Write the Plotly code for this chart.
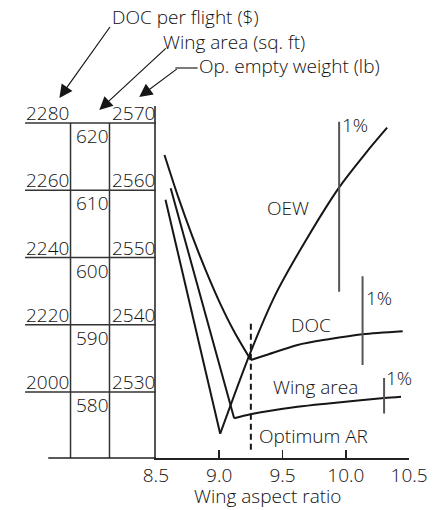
import plotly.graph_objects as go

# ---------------- data ----------------
aspect_ticks = [8.5, 9.0, 9.5, 10.0, 10.5]
aspect_ticklabels = ["8.5", "9.0", "9.5", "10.0", "10.5"]

# table scales (one row line per value)
doc_ticks = [2280, 2260, 2240, 2220, 2200]
doc_ticklabels = ["2280", "2260", "2240", "2220", "2000"]
wing_ticks = [620, 610, 600, 590, 580]
wing_ticklabels = ["620", "610", "600", "590", "580"]
oew_ticks = [2570, 2560, 2550, 2540, 2530]
oew_ticklabels = ["2570", "2560", "2550", "2540", "2530"]

# DOC per flight ($) vs wing aspect ratio
doc_ar = [8.568, 8.678, 8.788, 8.898, 9.008, 9.118, 9.25, 9.372, 9.619, 9.863, 10.131, 10.449]
doc_val = [2270.5, 2257.8, 2246.3, 2235.8, 2226.3, 2218.0, 2209.5, 2211.0, 2214.0, 2215.7, 2217.2, 2218.1]

# Wing area (sq. ft)
wing_ar = [8.617, 9.118, 9.247, 9.619, 9.863, 10.302, 10.436]
wing_val = [610.3, 576.1, 576.7, 577.8, 578.3, 579.1, 579.3]

# Operating empty weight (lb)
oew_ar = [8.576, 9.008, 9.247, 9.447, 9.692, 9.946, 10.156, 10.326]
oew_val = [2558.6, 2523.8, 2535.9, 2544.6, 2552.8, 2560.4, 2565.5, 2569.3]

# "1%" scale bars: x position, bottom, top (in each curve's own units)
oew_pct_bar = (9.947, 2544.9, 2570.2)
doc_pct_bar = (10.132, 2208.0, 2234.4)
wing_pct_bar = (10.302, 576.8, 582.1)

optimum_ar = 9.25
optimum_line_doc = (2182.8, 2221.0)

# ---------------- layout constants (pixels) ----------------
W, H = 443, 510
PLOT_L, PLOT_R = 154, 427
PLOT_T, PLOT_B = 106, 458
ROW_T, ROW_B = 123, 392
TABLE_L, COL1, COL2 = 13, 62, 104
AXIS_EXT_L = 38

FONT = dict(family="Open Sans, Liberation Sans, Arial", size=19, color="#111111", weight=300)


def px_x(p):
    return p / W


def px_y(p):
    return (H - p) / H


def axis_range(ticks):
    per_px = (ticks[0] - ticks[-1]) / (ROW_B - ROW_T)
    return [ticks[-1] - (PLOT_B - ROW_B) * per_px, ticks[0] + (ROW_T - PLOT_T) * per_px]


def branches(xs, ys):
    i = ys.index(min(ys))
    return (xs[:i + 1], ys[:i + 1]), (xs[i:], ys[i:])


doc_range = axis_range(doc_ticks)
wing_range = axis_range(wing_ticks)
oew_range = axis_range(oew_ticks)

fig = go.Figure()

for xs, ys, ax in ((doc_ar, doc_val, "y"), (wing_ar, wing_val, "y2"), (oew_ar, oew_val, "y3")):
    (lx, ly), (rx, ry) = branches(xs, ys)
    for bx, by in ((lx, ly), (rx, ry)):
        fig.add_trace(go.Scatter(x=bx, y=by, yaxis=ax, mode="lines",
                                 line=dict(color="#161616", width=2,
                                           shape="spline" if len(bx) > 2 else "linear",
                                           smoothing=0.8),
                                 hoverinfo="skip", showlegend=False))

bar = dict(mode="lines", line=dict(color="#555555", width=2), hoverinfo="skip", showlegend=False)
fig.add_trace(go.Scatter(x=[oew_pct_bar[0]] * 2, y=list(oew_pct_bar[1:]), yaxis="y3", **bar))
fig.add_trace(go.Scatter(x=[doc_pct_bar[0]] * 2, y=list(doc_pct_bar[1:]), yaxis="y", **bar))
fig.add_trace(go.Scatter(x=[wing_pct_bar[0]] * 2, y=list(wing_pct_bar[1:]), yaxis="y2", **bar))

fig.add_trace(go.Scatter(x=[optimum_ar] * 2, y=list(optimum_line_doc), yaxis="y", mode="lines",
                         line=dict(color="#161616", width=2, dash="6px,4px"),
                         hoverinfo="skip", showlegend=False))

shapes = []
# table rows
for v in doc_ticks:
    shapes.append(dict(type="line", xref="paper", yref="y", x0=px_x(TABLE_L), x1=px_x(PLOT_L),
                       y0=v, y1=v, line=dict(color="#333333", width=1.5)))
# table column separators
for c in (COL1, COL2):
    shapes.append(dict(type="line", xref="paper", yref="paper", x0=px_x(c), x1=px_x(c),
                       y0=px_y(PLOT_B), y1=px_y(ROW_T), line=dict(color="#333333", width=1.5)))
# axis extension under the table
shapes.append(dict(type="line", xref="paper", yref="paper", x0=px_x(AXIS_EXT_L), x1=px_x(PLOT_L),
                   y0=px_y(PLOT_B), y1=px_y(PLOT_B), line=dict(color="#222222", width=1.5)))
# horizontal lead of the OEW pointer
shapes.append(dict(type="line", xref="paper", yref="paper", x0=px_x(175), x1=px_x(199),
                   y0=px_y(68), y1=px_y(68), line=dict(color="#222222", width=1.2)))

ann = []
for v, t in zip(doc_ticks, doc_ticklabels):
    ann.append(dict(xref="paper", yref="y", x=px_x(TABLE_L - 1), y=v, text=t, showarrow=False,
                    xanchor="left", yanchor="middle", yshift=10, font=FONT))
for v, t in zip(doc_ticks, wing_ticklabels):
    ann.append(dict(xref="paper", yref="y", x=px_x(COL1 + 4), y=v, text=t, showarrow=False,
                    xanchor="left", yanchor="middle", yshift=-13, font=FONT))
for v, t in zip(doc_ticks, oew_ticklabels):
    ann.append(dict(xref="paper", yref="y", x=px_x(COL2 + 1), y=v, text=t, showarrow=False,
                    xanchor="left", yanchor="middle", yshift=10, font=FONT))

# curve labels
ann.append(dict(xref="x", yref="y3", x=9.544, y=2557.4, text="OEW", showarrow=False, font=FONT))
ann.append(dict(xref="x", yref="y", x=9.723, y=2219.9, text="DOC", showarrow=False, font=FONT))
ann.append(dict(xref="x", yref="y2", x=9.760, y=580.74, text="Wing area", showarrow=False, font=FONT))
ann.append(dict(xref="x", yref="y", x=optimum_ar, y=2186.9, text="Optimum AR", showarrow=False,
                xanchor="left", xshift=6, font=FONT))
ann.append(dict(xref="x", yref="y3", x=oew_pct_bar[0], y=2569.7, text="1%", showarrow=False,
                xanchor="left", xshift=1, font=FONT))
ann.append(dict(xref="x", yref="y", x=doc_pct_bar[0], y=2228.0, text="1%", showarrow=False,
                xanchor="left", xshift=1, font=FONT))
ann.append(dict(xref="x", yref="y2", x=wing_pct_bar[0], y=582.1, text="1%", showarrow=False,
                xanchor="left", xshift=0, font=FONT))

# scale pointers
ann.append(dict(xref="paper", yref="paper", x=px_x(105), y=px_y(17.5), text="DOC per flight ($)",
                showarrow=False, xanchor="left", yanchor="middle", font=FONT))
ann.append(dict(xref="paper", yref="paper", x=px_x(160), y=px_y(42), text="Wing area (sq. ft)",
                showarrow=False, xanchor="left", yanchor="middle", font=FONT))
ann.append(dict(xref="paper", yref="paper", x=px_x(198), y=px_y(66), text="Op. empty weight (lb)",
                showarrow=False, xanchor="left", yanchor="middle", font=FONT))
arrow = dict(xref="paper", yref="paper", text=" ", showarrow=True, arrowhead=2, arrowsize=2.2,
             arrowwidth=1.2, arrowcolor="#161616", axref="pixel", ayref="pixel", standoff=0,
             font=dict(size=1))
ann.append(dict(x=px_x(50), y=px_y(98), ax=52, ay=-73, **arrow))
ann.append(dict(x=px_x(93), y=px_y(110), ax=68, ay=-63, **arrow))
ann.append(dict(x=px_x(136), y=px_y(97), ax=39, ay=-29, **arrow))

# axis title
ann.append(dict(xref="paper", yref="paper", x=px_x(275), y=px_y(496), text="Wing aspect ratio",
                showarrow=False, xanchor="center", yanchor="middle", font=FONT))

ydom = [px_y(PLOT_B), px_y(PLOT_T)]
fig.update_layout(
    width=W, height=H,
    margin=dict(l=0, r=0, t=0, b=0),
    paper_bgcolor="white", plot_bgcolor="white",
    showlegend=False,
    font=FONT,
    xaxis=dict(domain=[px_x(PLOT_L), px_x(PLOT_R)], range=[8.5, 10.5],
               tickvals=aspect_ticks, ticktext=aspect_ticklabels,
               ticks="inside", ticklen=8, tickwidth=1.5, tickcolor="#222222",
               ticklabeloverflow="allow",
               showline=True, linecolor="#222222", linewidth=1.5,
               showgrid=False, zeroline=False, tickfont=FONT, fixedrange=True),
    yaxis=dict(domain=ydom, range=doc_range, showline=True, linecolor="#555555", linewidth=2,
               ticks="", showticklabels=False, showgrid=False, zeroline=False, fixedrange=True),
    yaxis2=dict(domain=ydom, range=wing_range, overlaying="y", visible=False, fixedrange=True),
    yaxis3=dict(domain=ydom, range=oew_range, overlaying="y", visible=False, fixedrange=True),
    shapes=shapes,
    annotations=ann,
)

fig.write_html(
    "out.html",
    config={"displayModeBar": False, "staticPlot": True},
    post_script="document.body.style.margin='0';document.body.style.overflow='hidden';",
)
